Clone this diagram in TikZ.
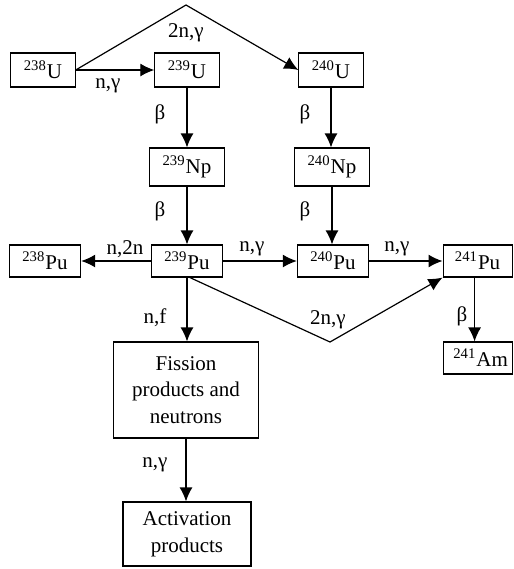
\documentclass[tikz,border=0pt]{standalone}
\usepackage{fontspec}
\setmainfont{Liberation Serif}
\usetikzlibrary{arrows.meta}
\tikzset{
  box/.style={draw,line width=0.6pt,inner xsep=6.5pt,inner ysep=0pt,minimum height=17pt,
    font=\fontsize{10.5}{13.3}\selectfont},
  lbl/.style={inner sep=0pt,font=\fontsize{10.5}{13.3}\selectfont},
  arr/.style={-{Latex[length=7pt,width=6.5pt]},line width=0.6pt}
}

\begin{document}
\begin{tikzpicture}[x=0.5pt,y=-0.5pt]
    \useasboundingbox (0,0) rectangle (514,569);
    % uranium row
    \node[box] (u238) at (43,70) {\textsuperscript{238}U};
    \node[box] (u239) at (187,70) {\textsuperscript{239}U};
    \node[box] (u240) at (331,70) {\textsuperscript{240}U};
    \node[box,minimum height=19pt] (np239) at (187,167) {\textsuperscript{239}Np};
    \node[box,minimum height=19pt] (np240) at (332,167) {\textsuperscript{240}Np};
    % plutonium row
    \node[box,minimum height=16pt] (pu238) at (45,261) {\textsuperscript{238}Pu};
    \node[box,minimum height=16pt] (pu239) at (187,261) {\textsuperscript{239}Pu};
    \node[box,minimum height=16pt] (pu240) at (333,261) {\textsuperscript{240}Pu};
    \node[box,minimum height=16pt,inner xsep=3pt,minimum width=34.5pt,anchor=west] (pu241) at (442.5,261) {\textsuperscript{241}Pu};
    \node[box,minimum height=16pt,inner xsep=2pt,minimum width=34.5pt,anchor=west] (am241) at (442.5,358) {\hspace{3pt}\textsuperscript{241}Am};
    \node[box,align=center,minimum width=72.5pt,minimum height=48pt] (fis) at (186,390) {Fission\\products and\\neutrons};
    \node[box,align=center,minimum width=64pt,minimum height=32pt] (act) at (187,534) {Activation\\products};
    \coordinate (top) at (186,5);
    \coordinate (vlow) at (330,342);
    % connectors
    \draw[arr] (u238.east) -- (top) -- (u240.west);
    \draw[arr] (u238) -- (u239);
    \draw[arr] (u239.south) -- (u239.south |- np239.north);
    \draw[arr] (u240.south) -- (u240.south |- np240.north);
    \draw[arr] (np239.south) -- (np239.south |- pu239.north);
    \draw[arr] (np240.south) -- (np240.south |- pu240.north);
    \draw[arr] (pu239) -- (pu238);
    \draw[arr] (pu239) -- (pu240);
    \draw[arr] (pu240) -- (pu241);
    \draw[arr] (pu239.south) -- (pu239.south |- fis.north);
    \draw[arr] ([xshift=1.5pt]pu239.south) -- (vlow) -- (pu241.south west);
    \draw[arr] ([xshift=-1.5pt]pu241.south) -- ([xshift=-1.5pt]pu241.south |- am241.north);
    \draw[arr] (fis.south) -- (fis.south |- act.north);
    % reaction labels
    \node[lbl] (l1) at (186,33) {2n,γ};
    \node[lbl] (l2) at (108,86) {n,γ};
    \node[lbl] (l3) at (160,114) {β};
    \node[lbl] (l4) at (305,114) {β};
    \node[lbl] (l5) at (160,211) {β};
    \node[lbl] (l6) at (305,211) {β};
    \node[lbl] (l7) at (125,249) {n,2n};
    \node[lbl] (l8) at (252,249) {n,γ};
    \node[lbl] (l9) at (397,249) {n,γ};
    \node[lbl] (l10) at (155,318) {n,f};
    \node[lbl] (l11) at (328,320) {2n,γ};
    \node[lbl] (l12) at (462,316) {β};
    \node[lbl] (l13) at (155,465) {n,γ};
\end{tikzpicture}
\end{document}
